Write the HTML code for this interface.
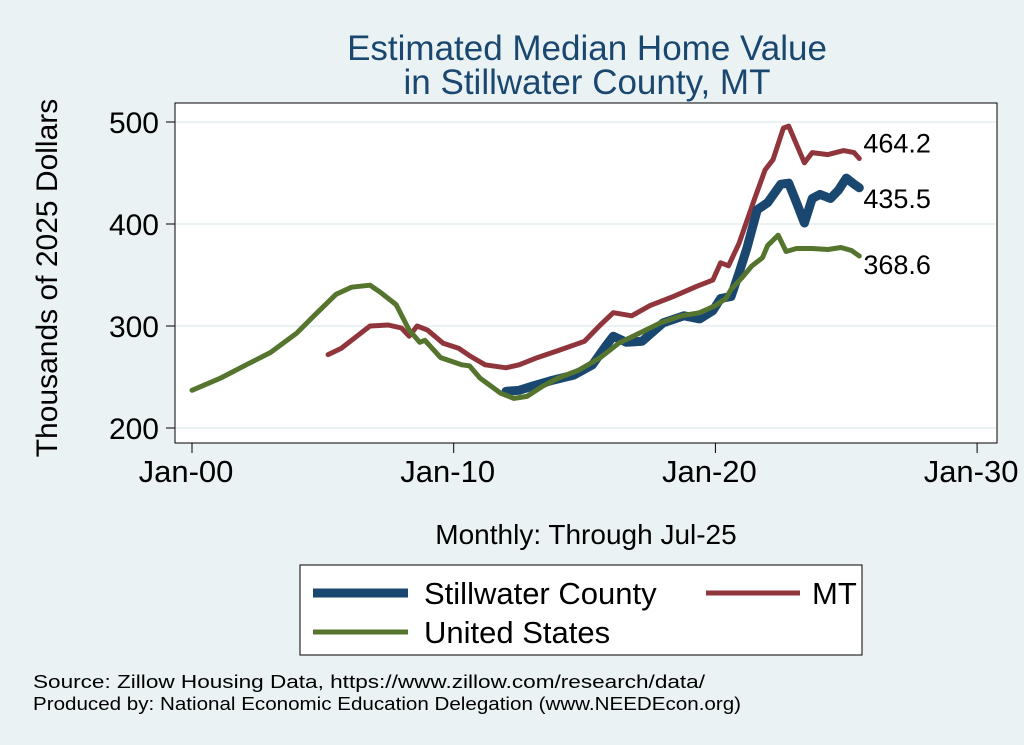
<!DOCTYPE html>
<html><head><meta charset="utf-8"><style>
body{margin:0;background:#eaf2f3;}
svg{display:block;font-family:"Liberation Sans",Arial,sans-serif;}
</style></head><body>
<svg id="chart" width="1024" height="745" viewBox="0 0 1024 745">
<rect x="0" y="0" width="1024" height="745" fill="#eaf2f3"/>
<text x="587" y="60" font-size="35" fill="#1a476f" text-anchor="middle">Estimated Median Home Value</text>
<text x="587" y="94" font-size="35" fill="#1a476f" text-anchor="middle">in Stillwater County, MT</text>
<rect x="175" y="103" width="822" height="340" fill="#fff" stroke="#000" stroke-width="1"/>
<g id="grid"></g>
<g id="axes"></g>
<g id="series"></g>
<text transform="translate(57,278) rotate(-90)" font-size="30" text-anchor="middle">Thousands of 2025 Dollars</text>
<text x="586" y="544" font-size="28" text-anchor="middle">Monthly: Through Jul-25</text>
<g>
<rect x="300" y="565" width="562" height="90" fill="#fff" stroke="#000" stroke-width="1"/>
<line x1="313" y1="593" x2="408" y2="593" stroke="#1a476f" stroke-width="9"/>
<text x="424" y="604" font-size="31">Stillwater County</text>
<line x1="706" y1="593" x2="800" y2="593" stroke="#90353b" stroke-width="5"/>
<text x="812" y="604" font-size="31">MT</text>
<line x1="313" y1="632" x2="408" y2="632" stroke="#55752f" stroke-width="5"/>
<text x="424" y="643" font-size="31">United States</text>
</g>
<text x="33" y="688" font-size="18" textLength="672" lengthAdjust="spacingAndGlyphs">Source: Zillow Housing Data, https://www.zillow.com/research/data/</text>
<text x="33" y="710" font-size="18" textLength="708" lengthAdjust="spacingAndGlyphs">Produced by: National Economic Education Delegation (www.NEEDEcon.org)</text>
</svg>
<script>
const yTicks=[200,300,400,500];
const xTickYears=[2000,2010,2020,2030];
const xTickLabels=["Jan-00","Jan-10","Jan-20","Jan-30"];
const usYears=[2000.0,2001.1,2002.0,2003.0,2004.0,2004.7,2005.5,2006.1,2006.8,2007.2,2007.8,2008.3,2008.7,2008.9,2009.5,2010.3,2010.6,2011.0,2011.8,2012.3,2012.8,2013.4,2014.0,2014.8,2015.6,2016.3,2017.1,2017.9,2018.7,2019.4,2020.0,2020.4,2020.6,2021.0,2021.4,2021.8,2022.0,2022.4,2022.7,2023.1,2023.7,2024.3,2024.8,2025.2,2025.5];
const usValues=[237,249,261,274,293,311,331,338,340,333,321,296,284,286,269,262,261,249,234,229,231,241,249,257,269,283,293,303,310,313,320,327,336,347,359,367,379,389,373,376,376,375,377,374,368.6];
const mtYears=[2005.2,2005.7,2006.3,2006.8,2007.5,2008.0,2008.3,2008.6,2009.0,2009.6,2010.2,2010.6,2011.2,2012.0,2012.5,2013.2,2014.0,2015.0,2015.6,2016.1,2016.8,2017.5,2018.4,2019.3,2019.9,2020.2,2020.5,2020.9,2021.5,2021.9,2022.2,2022.6,2022.8,2023.0,2023.4,2023.7,2024.3,2024.9,2025.3,2025.5];
const mtValues=[272,278,290,300,301,298,290,300,296,283,278,271,262,259,262,269,276,285,301,313,310,320,329,339,345,362,359,381,425,453,463,494,496,484,460,470,468,472,470,464.2];
const swYears=[2012.0,2012.5,2013.0,2013.8,2014.6,2015.3,2015.8,2016.1,2016.6,2017.2,2018.0,2018.8,2019.4,2019.9,2020.2,2020.6,2020.9,2021.2,2021.6,2022.0,2022.5,2022.8,2023.1,2023.4,2023.7,2024.0,2024.4,2024.7,2025.0,2025.3,2025.5];
const swValues=[236,237,241,247,252,262,280,290,284,285,303,310,307,315,327,329,352,376,414,421,439,440,421,401,425,429,425,433,445,439,435.5];
const endLabels=["435.5","464.2","368.6"];

const NS="http://www.w3.org/2000/svg";
const xS=yr=>192+(yr-2000)*26.17;
const yS=v=>428-(v-200)*1.02;
function mk(tag,attrs,parent){const e=document.createElementNS(NS,tag);for(const k in attrs)e.setAttribute(k,attrs[k]);parent.appendChild(e);return e;}
const grid=document.getElementById('grid'),axes=document.getElementById('axes'),series=document.getElementById('series');
yTicks.forEach(t=>{
  const g=mk('line',{x1:176,x2:996,y1:yS(t),y2:yS(t),stroke:'#eaf2f3','stroke-width':2},grid);
  
  
  const tk=mk('line',{x1:166,x2:175,y1:yS(t),y2:yS(t),stroke:'#000'},axes);
  
  
  const tx=mk('text',{x:159,y:yS(t)+11,'font-size':30,'text-anchor':'end'},axes);
  tx.textContent=t;
  
  
});
xTickYears.forEach((yr,i)=>{
  const tk=mk('line',{x1:xS(yr),x2:xS(yr),y1:443,y2:453,stroke:'#000'},axes);
  
  
  const tx=mk('text',{x:xS(yr)-6,y:482,'font-size':31,'text-anchor':'middle'},axes);
  tx.textContent=xTickLabels[i];
  
  
});
function line(xs,vs,color,w,name){
  const d=xs.map((x,i)=>(i?'L':'M')+xS(x).toFixed(1)+','+yS(vs[i]).toFixed(1)).join(' ');
  const p=mk('path',{d:d,fill:'none',stroke:color,'stroke-width':w,'stroke-linejoin':'round','stroke-linecap':'round'},series);
  
  
}
line(mtYears,mtValues,'#90353b',5,'mt-line');
line(swYears,swValues,'#1a476f',9,'stillwater-line');
line(usYears,usValues,'#55752f',5,'us-line');
const ends=[[swYears,swValues,'end-label-stillwater',20],[mtYears,mtValues,'end-label-mt',-6],[usYears,usValues,'end-label-us',18]];
ends.forEach((e,i)=>{
  const xs=e[0],vs=e[1];
  const t=mk('text',{x:xS(xs[xs.length-1])+4,y:yS(vs[vs.length-1])+e[3],'font-size':27},series);
  t.textContent=endLabels[i];
  
  
});
</script>
</body></html>
